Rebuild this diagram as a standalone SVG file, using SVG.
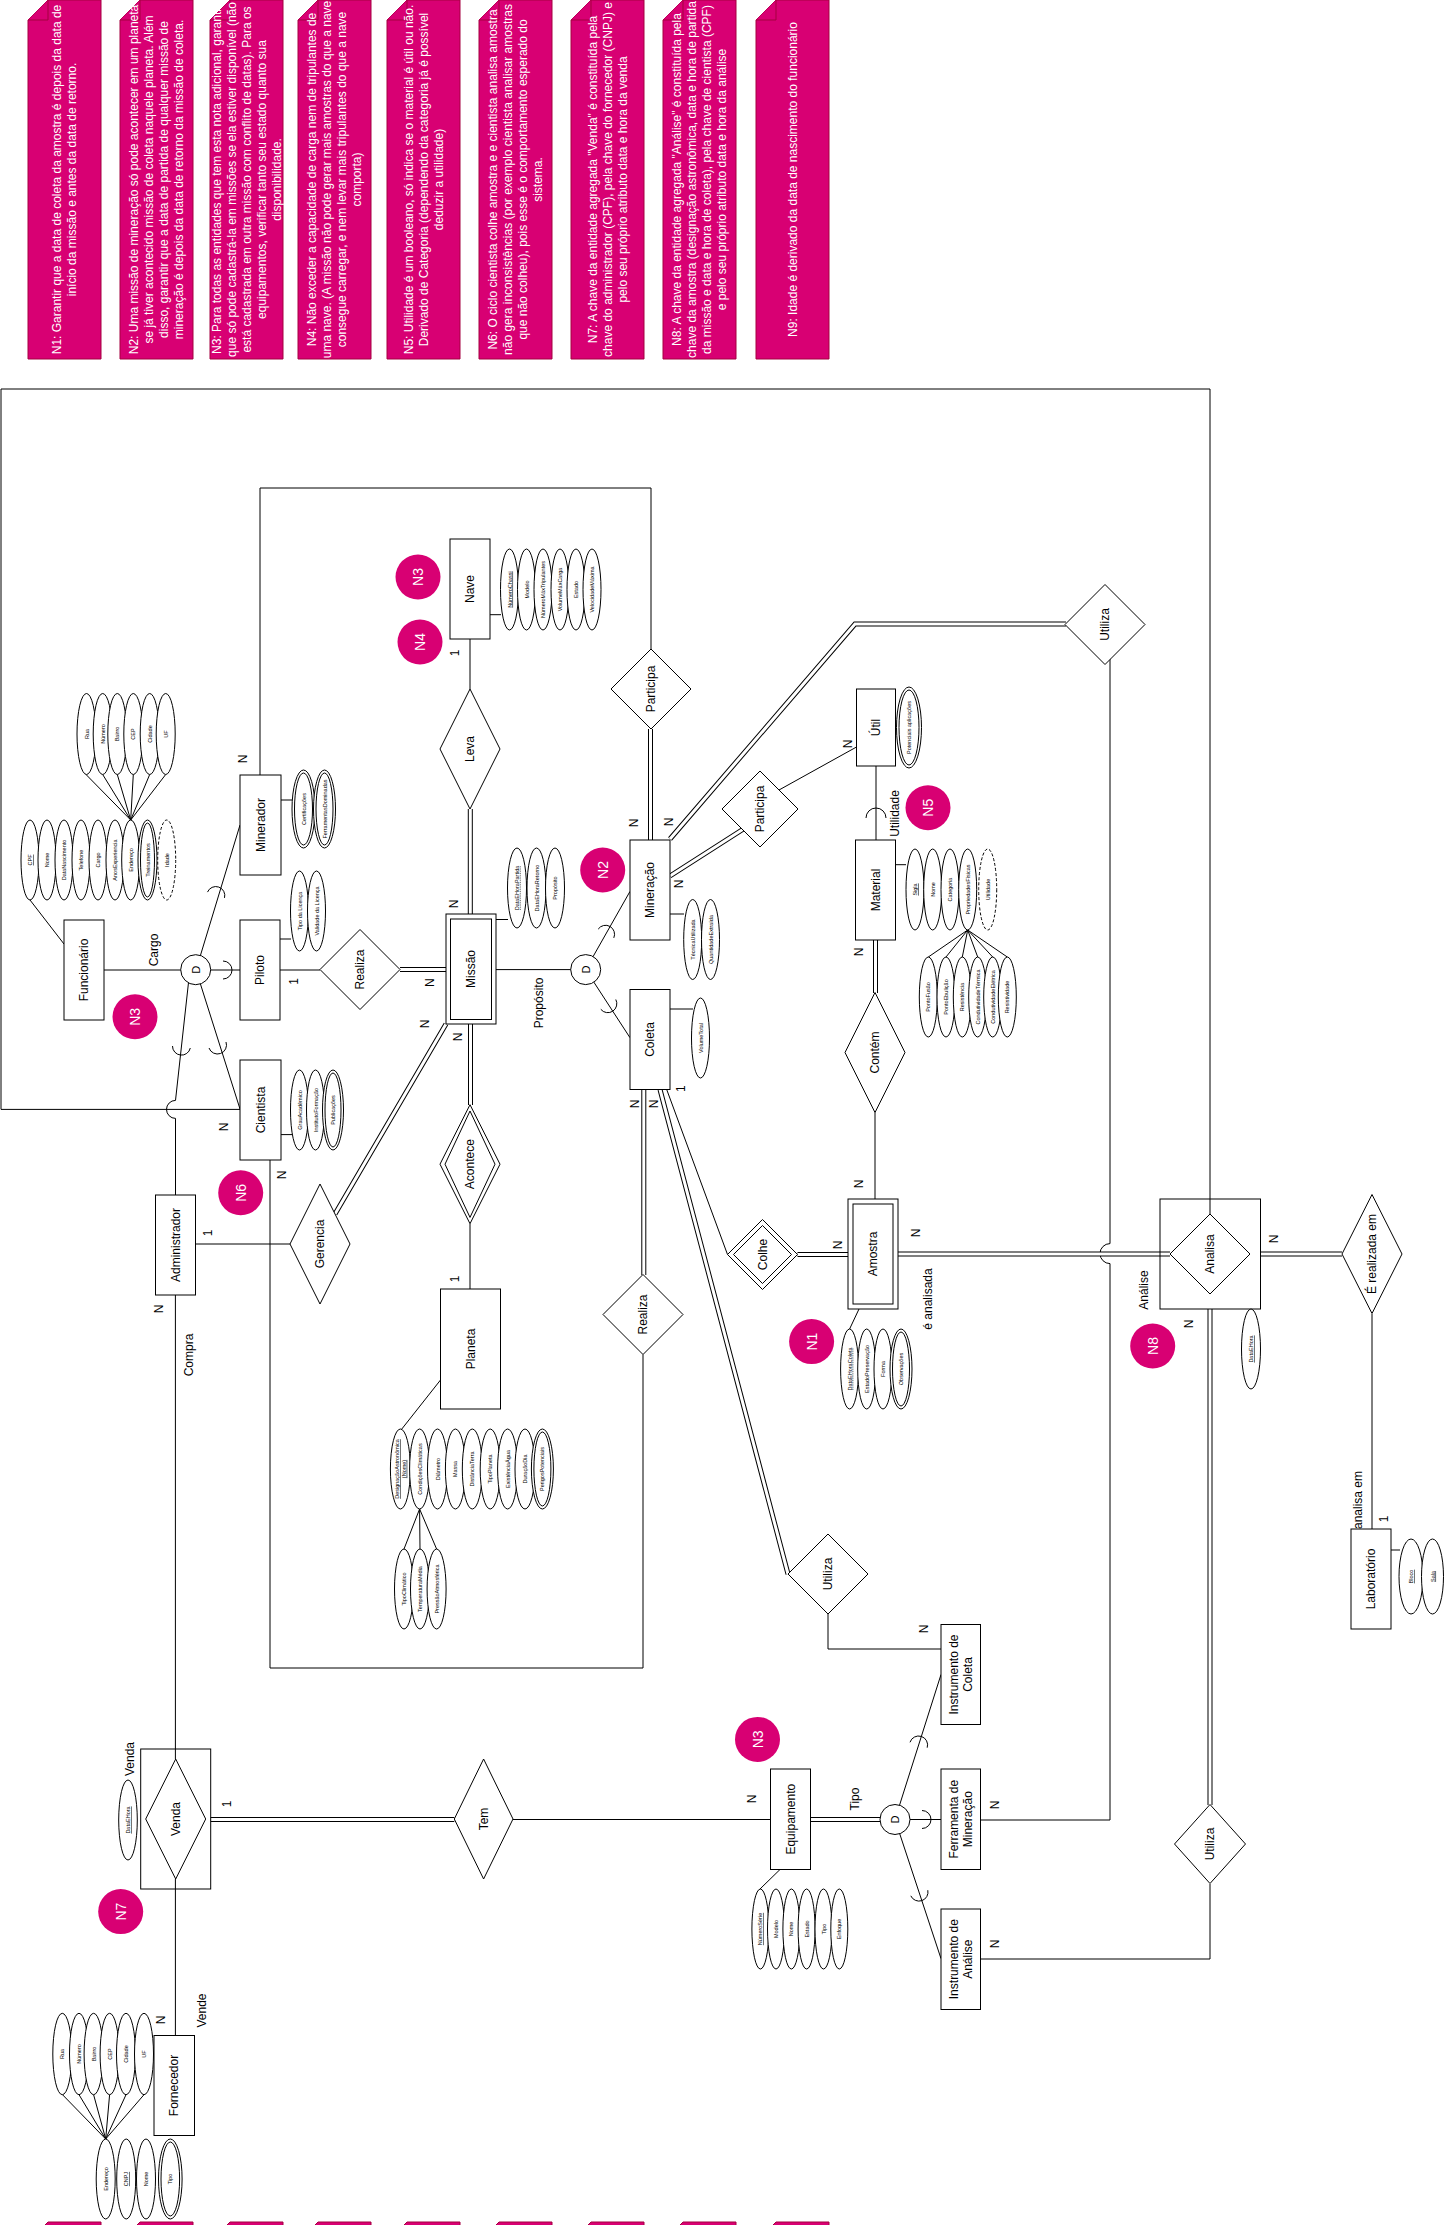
<svg xmlns="http://www.w3.org/2000/svg" width="1445" height="2225" viewBox="0 0 1445 2225">
<style>
.ln{fill:none;stroke:#000;stroke-width:1}
.db{fill:none;stroke:#000;stroke-width:5}
.dw{fill:none;stroke:#fff;stroke-width:3}
.e{fill:#fff;stroke:#000;stroke-width:1}
.en{fill:none;stroke:#000;stroke-width:1}
.ds{stroke-dasharray:3 2}
text{font-family:'Liberation Sans',Arial,sans-serif;text-anchor:middle;dominant-baseline:central;fill:#000}
.t{font-size:12px}
.s{font-size:11px}
.a{font-size:5.5px}
.note{fill:#d80073;stroke:#a50040;stroke-width:1}
.nt{font-size:12px;fill:#fff}
.nc{fill:#d80073}
.ct{font-size:14px;fill:#fff}
.u{text-decoration:underline}
</style>
<defs>
<path id="ns" d="M0,20 L20,0 H73 V359 H0 Z"/>
<path id="nf" d="M0,20 H20 V0"/>
</defs>
<rect width="1445" height="2225" fill="#fff"/>

<g id="notes">
<g id="note-n1" transform="translate(28,0)"><use href="#ns" class="note"/><use href="#nf" class="note"/><text class="nt" transform="translate(36.5,179.5) rotate(-90)"><tspan x="0" y="-7.5">N1: Garantir que a data de coleta da amostra é depois da data de</tspan><tspan x="0" y="7.5">início da missão e antes da data de retorno.</tspan></text></g>
<g id="note-n2" transform="translate(120,0)"><use href="#ns" class="note"/><use href="#nf" class="note"/><text class="nt" transform="translate(36.5,179.5) rotate(-90)"><tspan x="0" y="-22.5">N2: Uma missão de mineração só pode acontecer em um planeta</tspan><tspan x="0" y="-7.5">se já tiver acontecido missão de coleta naquele planeta. Além</tspan><tspan x="0" y="7.5">disso, garantir que a data de partida de qualquer missão de</tspan><tspan x="0" y="22.5">mineração é depois da data de retorno da missão de coleta.</tspan></text></g>
<g id="note-n3" transform="translate(210,0)"><use href="#ns" class="note"/><use href="#nf" class="note"/><text class="nt" transform="translate(36.5,179.5) rotate(-90)"><tspan x="0" y="-30">N3: Para todas as entidades que tem esta nota adicional, garantir</tspan><tspan x="0" y="-15">que só pode cadastrá-la em missões se ela estiver disponível (não</tspan><tspan x="0" y="0">está cadastrada em outra missão com conflito de datas). Para os</tspan><tspan x="0" y="15">equipamentos, verificar tanto seu estado quanto sua</tspan><tspan x="0" y="30">disponibilidade.</tspan></text></g>
<g id="note-n4" transform="translate(298,0)"><use href="#ns" class="note"/><use href="#nf" class="note"/><text class="nt" transform="translate(36.5,179.5) rotate(-90)"><tspan x="0" y="-22.5">N4: Não exceder a capacidade de carga nem de tripulantes de</tspan><tspan x="0" y="-7.5">uma nave. (A missão não pode gerar mais amostras do que a nave</tspan><tspan x="0" y="7.5">consegue carregar, e nem levar mais tripulantes do que a nave</tspan><tspan x="0" y="22.5">comporta)</tspan></text></g>
<g id="note-n5" transform="translate(387,0)"><use href="#ns" class="note"/><use href="#nf" class="note"/><text class="nt" transform="translate(36.5,179.5) rotate(-90)"><tspan x="0" y="-15">N5: Utilidade é um booleano, só indica se o material é útil ou não.</tspan><tspan x="0" y="0">Derivado de Categoria (dependendo da categoria já é possível</tspan><tspan x="0" y="15">deduzir a utilidade)</tspan></text></g>
<g id="note-n6" transform="translate(479,0)"><use href="#ns" class="note"/><use href="#nf" class="note"/><text class="nt" transform="translate(36.5,179.5) rotate(-90)"><tspan x="0" y="-22.5">N6: O ciclo cientista colhe amostra e e cientista analisa amostra</tspan><tspan x="0" y="-7.5">não gera inconsistências (por exemplo cientista analisar amostras</tspan><tspan x="0" y="7.5">que não colheu), pois esse é o comportamento esperado do</tspan><tspan x="0" y="22.5">sistema.</tspan></text></g>
<g id="note-n7" transform="translate(571,0)"><use href="#ns" class="note"/><use href="#nf" class="note"/><text class="nt" transform="translate(36.5,179.5) rotate(-90)"><tspan x="0" y="-15">N7: A chave da entidade agregada "Venda" é constituída pela</tspan><tspan x="0" y="0">chave do administrador (CPF), pela chave do fornecedor (CNPJ) e</tspan><tspan x="0" y="15">pelo seu próprio atributo data e hora da venda</tspan></text></g>
<g id="note-n8" transform="translate(663,0)"><use href="#ns" class="note"/><use href="#nf" class="note"/><text class="nt" transform="translate(36.5,179.5) rotate(-90)"><tspan x="0" y="-22.5">N8: A chave da entidade agregada "Análise" é constituída pela</tspan><tspan x="0" y="-7.5">chave da amostra (designação astronômica, data e hora de partida</tspan><tspan x="0" y="7.5">da missão e data e hora de coleta), pela chave de cientista (CPF)</tspan><tspan x="0" y="22.5">e pelo seu próprio atributo data e hora da análise</tspan></text></g>
<g id="note-n9" transform="translate(756,0)"><use href="#ns" class="note"/><use href="#nf" class="note"/><text class="nt" transform="translate(36.5,179.5) rotate(-90)"><tspan x="0" y="0">N9: Idade é derivado da data de nascimento do funcionário</tspan></text></g>
<g id="notes-below">
<use href="#ns" class="note" transform="translate(28,2222)"/><use href="#ns" class="note" transform="translate(120,2222)"/><use href="#ns" class="note" transform="translate(210,2222)"/><use href="#ns" class="note" transform="translate(298,2222)"/><use href="#ns" class="note" transform="translate(387,2222)"/><use href="#ns" class="note" transform="translate(479,2222)"/><use href="#ns" class="note" transform="translate(571,2222)"/><use href="#ns" class="note" transform="translate(663,2222)"/><use href="#ns" class="note" transform="translate(756,2222)"/>
</g>
</g>

<g id="connectors">
<path class="ln" d="M240,1109.4 H1 V389 H1210 V1214.5 M260,775 V488 H651 V649 M104,970 H196 M196,970 H240 M196,970 L240,825 M196,970 L240,1109 M188.5,982.5 L175.5,1100.4 A9,9 0 0 0 175.5,1118.4 V1195 M280,970 H320 M470,639 V689 M195.5,1244 H290 M270,1160 V1668 H643 V1354.5 M470,1223.7 V1289 M496,969.6 H571 M585.7,969.6 L630,891.4 M585.7,969.6 L630,1037.7 M666.7,1089.5 L727.5,1254.5 M779,790 L856.5,747 M876,766 V840 M875,1112.5 V1199 M1110,640 V1243.6 A10,10 0 0 0 1110,1263.6 V1820 H980.5 M980.5,1959 H1210 V1884 M828,1614 V1649 H941 M513,1819.5 H770.5 M895,1819.5 H941 M895,1819.5 L941,1674.5 M895,1819.5 L941,1958.6 M1372,1314 V1529 M175.4,1295 V1759 M175.4,1879 V2035.5"/>
<path class="ln" d="M223,961 A9,9 0 0 1 223,979 M207.5,892.1 A9,9 0 0 1 224.5,897.9 M226,1042 A9,9 0 0 1 209,1048 M190.3,1048 A9,9 0 0 1 172.5,1046 M598.2,929.1 A9,9 0 0 1 613.8,937.9 M615.8,999.5 A9,9 0 0 1 600.8,1009.3 M866,818 A10,10 0 0 1 886,818 M922,1810.5 A9,9 0 0 1 922,1828.5 M910,1742.3 A9,9 0 0 1 927.2,1747.7 M927.8,1890.2 A9,9 0 0 1 910.8,1895.8"/>
<path class="db" d="M650.5,729 V840 M470.3,809 V914 M400,969.5 H446 M335,1214 L446,1024 M470.5,1024 V1105 M670,839 L855,624 H1066 M670,876 L745,828 M875.5,940 V993 M643.8,1275 V1089.5 M660,1089.5 L788,1574 M797.5,1254.5 H848 M898,1254 H1170 M1260.5,1254 H1342 M1210,1309 V1805 M210.7,1819.5 H454.3 M810.5,1819.5 H880"/>
<path class="dw" d="M650.5,729 V840 M470.3,809 V914 M400,969.5 H446 M335,1214 L446,1024 M470.5,1024 V1105 M670,839 L855,624 H1066 M670,876 L745,828 M875.5,940 V993 M643.8,1275 V1089.5 M660,1089.5 L788,1574 M797.5,1254.5 H848 M898,1254 H1170 M1260.5,1254 H1342 M1210,1309 V1805 M210.7,1819.5 H454.3 M810.5,1819.5 H880"/>
<path class="ln" d="M490,614.7 H501 M496,919.5 H508 M280,939 H291 M281,800 H292 M281,1134.6 H292 M670,914 H684 M670,1009 H693 M895.3,864.7 H906 M859,1309 L849.6,1329 M1391,1550 H1400 M440.5,1380 L401.8,1429 M780,1869.5 L760,1889 M30,900 L64,944 M86,774.5 L130.7,820 M102.7,774.5 L130.7,820 M117.3,774.5 L130.7,820 M133.3,774.5 L130.7,820 M149.7,774.5 L130.7,820 M165.7,774.5 L130.7,820 M967.7,930 L928.3,957 M967.7,930 L946,957 M967.7,930 L962.3,957 M967.7,930 L977.7,957 M967.7,930 L992.7,957 M967.7,930 L1007.3,957 M419.6,1509 L404,1549 M419.6,1509 L420,1549 M419.6,1509 L436.6,1549 M62.5,2094.7 L105.7,2139 M79,2094.7 L105.7,2139 M93.6,2094.7 L105.7,2139 M109.6,2094.7 L105.7,2139 M126,2094.7 L105.7,2139 M144,2094.7 L105.7,2139"/>
</g>

<g id="entities">
<g id="funcionario"><rect class="e" x="64" y="920" width="40" height="100"/><text class="t" transform="translate(84,970) rotate(-90)">Funcionário</text></g>
<g id="minerador"><rect class="e" x="240" y="775" width="41" height="100"/><text class="t" transform="translate(260.5,825) rotate(-90)">Minerador</text></g>
<g id="piloto"><rect class="e" x="240" y="920" width="40" height="100"/><text class="t" transform="translate(260,970) rotate(-90)">Piloto</text></g>
<g id="cientista"><rect class="e" x="240" y="1060" width="41" height="100"/><text class="t" transform="translate(260.5,1110) rotate(-90)">Cientista</text></g>
<g id="administrador"><rect class="e" x="155.5" y="1195" width="40" height="100"/><text class="t" transform="translate(175.5,1245) rotate(-90)">Administrador</text></g>
<g id="nave"><rect class="e" x="450" y="539" width="40" height="100"/><text class="t" transform="translate(470,589) rotate(-90)">Nave</text></g>
<g id="missao"><rect class="e" x="446" y="914" width="50" height="110"/><rect class="e" x="450.5" y="919" width="41" height="100.5"/><text class="t" transform="translate(471,969) rotate(-90)">Missão</text></g>
<g id="planeta"><rect class="e" x="440.5" y="1289" width="60" height="120"/><text class="t" transform="translate(470.5,1349) rotate(-90)">Planeta</text></g>
<g id="mineracao"><rect class="e" x="630" y="840" width="40" height="100"/><text class="t" transform="translate(650,890) rotate(-90)">Mineração</text></g>
<g id="coleta"><rect class="e" x="630" y="989.5" width="40" height="100"/><text class="t" transform="translate(650,1039.5) rotate(-90)">Coleta</text></g>
<g id="util"><rect class="e" x="856.5" y="689" width="39" height="77"/><text class="t" transform="translate(876,727.5) rotate(-90)">Útil</text></g>
<g id="material"><rect class="e" x="855.5" y="840" width="40" height="100"/><text class="t" transform="translate(875.5,890) rotate(-90)">Material</text></g>
<g id="amostra"><rect class="e" x="848" y="1199" width="50" height="110"/><rect class="e" x="853" y="1204" width="40" height="100"/><text class="t" transform="translate(873,1254) rotate(-90)">Amostra</text></g>
<g id="laboratorio"><rect class="e" x="1351" y="1529" width="40" height="100"/><text class="t" transform="translate(1371,1579) rotate(-90)">Laboratório</text></g>
<g id="instr-coleta"><rect class="e" x="941" y="1624.5" width="39.5" height="100"/><text class="t" transform="translate(960.7,1674.5) rotate(-90)"><tspan x="0" y="-7">Instrumento de</tspan><tspan x="0" y="7">Coleta</tspan></text></g>
<g id="ferramenta"><rect class="e" x="941" y="1769" width="39.5" height="100.5"/><text class="t" transform="translate(960.7,1819.2) rotate(-90)"><tspan x="0" y="-7">Ferramenta de</tspan><tspan x="0" y="7">Mineração</tspan></text></g>
<g id="instr-analise"><rect class="e" x="941" y="1909" width="39.5" height="100.5"/><text class="t" transform="translate(960.7,1959.2) rotate(-90)"><tspan x="0" y="-7">Instrumento de</tspan><tspan x="0" y="7">Análise</tspan></text></g>
<g id="equipamento"><rect class="e" x="770.5" y="1769" width="40" height="100.5"/><text class="t" transform="translate(790.5,1819.2) rotate(-90)">Equipamento</text></g>
<g id="fornecedor"><rect class="e" x="154" y="2035.5" width="40.5" height="100"/><text class="t" transform="translate(174.2,2085.5) rotate(-90)">Fornecedor</text></g>
<g id="analise-agg"><rect class="en" x="1160" y="1199" width="100.5" height="110"/><polygon class="e" points="1210,1214 1250,1254 1210,1294 1170,1254"/><text class="t" transform="translate(1210,1254) rotate(-90)">Analisa</text></g>
<g id="venda-agg"><rect class="en" x="140.7" y="1749" width="70" height="140"/><polygon class="e" points="175.7,1759 205.7,1819 175.7,1879 145.7,1819"/><text class="t" transform="translate(175.7,1819) rotate(-90)">Venda</text></g>
</g>

<g id="relationships">
<g id="participa-1"><polygon class="e" points="651,649 691,689 651,729 611,689"/><text class="t" transform="translate(651,689) rotate(-90)">Participa</text></g>
<g id="leva"><polygon class="e" points="470,689 500,749 470,809 440,749"/><text class="t" transform="translate(470,749) rotate(-90)">Leva</text></g>
<g id="realiza-1"><polygon class="e" points="360,929.5 400,969.5 360,1009.5 320,969.5"/><text class="t" transform="translate(360,969.5) rotate(-90)">Realiza</text></g>
<g id="gerencia"><polygon class="e" points="320,1184 350,1244 320,1304 290,1244"/><text class="t" transform="translate(320,1244) rotate(-90)">Gerencia</text></g>
<g id="acontece"><polygon class="e" points="470,1104.7 500,1164.2 470,1223.7 440,1164.2"/><polygon class="e" points="470,1111 495,1164.2 470,1217.4 445,1164.2"/><text class="t" transform="translate(470,1164.2) rotate(-90)">Acontece</text></g>
<g id="participa-2"><polygon class="e" points="760,771 798,809 760,847 722,809"/><text class="t" transform="translate(760,809) rotate(-90)">Participa</text></g>
<g id="utiliza-1"><polygon class="e" points="1105,584.5 1145,624.5 1105,664.5 1065,624.5"/><text class="t" transform="translate(1105,624.5) rotate(-90)">Utiliza</text></g>
<g id="contem"><polygon class="e" points="875,992.5 905,1052.5 875,1112.5 845,1052.5"/><text class="t" transform="translate(875,1052.5) rotate(-90)">Contém</text></g>
<g id="colhe"><polygon class="e" points="762.5,1219.5 797.5,1254.5 762.5,1289.5 727.5,1254.5"/><polygon class="e" points="762.5,1225.5 791.5,1254.5 762.5,1283.5 733.5,1254.5"/><text class="t" transform="translate(762.5,1254.5) rotate(-90)">Colhe</text></g>
<g id="realiza-2"><polygon class="e" points="643,1274.5 683,1314.5 643,1354.5 603,1314.5"/><text class="t" transform="translate(643,1314.5) rotate(-90)">Realiza</text></g>
<g id="utiliza-2"><polygon class="e" points="828,1534 868,1574 828,1614 788,1574"/><text class="t" transform="translate(828,1574) rotate(-90)">Utiliza</text></g>
<g id="realizada-em"><polygon class="e" points="1372,1194.5 1402,1254 1372,1313.5 1342,1254"/><text class="t" transform="translate(1372,1254) rotate(-90)">É realizada em</text></g>
<g id="utiliza-3"><polygon class="e" points="1210,1804.5 1245.5,1844 1210,1883.5 1174.5,1844"/><text class="t" transform="translate(1210,1844) rotate(-90)">Utiliza</text></g>
<g id="tem"><polygon class="e" points="483.6,1759 513,1819 483.6,1879 454.3,1819"/><text class="t" transform="translate(483.6,1819) rotate(-90)">Tem</text></g>
<g id="d-cargo"><circle class="e" cx="195.7" cy="969.7" r="15"/><text class="s" transform="translate(195.7,969.7) rotate(-90)">D</text></g>
<g id="d-proposito"><circle class="e" cx="585.7" cy="969.6" r="15"/><text class="s" transform="translate(585.7,969.6) rotate(-90)">D</text></g>
<g id="d-tipo"><circle class="e" cx="895" cy="1819.5" r="15"/><text class="s" transform="translate(895,1819.5) rotate(-90)">D</text></g>
</g>

<g id="attributes">
<g id="attr-funcionario">
<g transform="translate(30,860)"><ellipse class="e" rx="9" ry="40"/><text class="a u" transform="rotate(-90)">CPF</text></g>
<g transform="translate(47,860)"><ellipse class="e" rx="9" ry="40"/><text class="a" transform="rotate(-90)">Nome</text></g>
<g transform="translate(64,860)"><ellipse class="e" rx="9" ry="40"/><text class="a" transform="rotate(-90)">DataNascimento</text></g>
<g transform="translate(81,860)"><ellipse class="e" rx="9" ry="40"/><text class="a" transform="rotate(-90)">Telefone</text></g>
<g transform="translate(98,860)"><ellipse class="e" rx="9" ry="40"/><text class="a" transform="rotate(-90)">Cargo</text></g>
<g transform="translate(115,860)"><ellipse class="e" rx="9" ry="40"/><text class="a" transform="rotate(-90)">AnosExperiencia</text></g>
<g transform="translate(130.7,860)"><ellipse class="e" rx="9" ry="40"/><text class="a" transform="rotate(-90)">Endereço</text></g>
<g transform="translate(147.5,860)"><ellipse class="e" rx="9.5" ry="40"/><ellipse class="e" rx="7" ry="37"/><text class="a" transform="rotate(-90)">Treinamentos</text></g>
<g transform="translate(166.7,860)"><ellipse class="e ds" rx="9" ry="40"/><text class="a" transform="rotate(-90)">Idade</text></g>
</g>
<g id="attr-funcionario-endereco">
<g transform="translate(86.5,734)"><ellipse class="e" rx="9.5" ry="40.5"/><text class="a" transform="rotate(-90)">Rua</text></g>
<g transform="translate(102.7,734)"><ellipse class="e" rx="9.5" ry="40.5"/><text class="a" transform="rotate(-90)">Número</text></g>
<g transform="translate(117.3,734)"><ellipse class="e" rx="9.5" ry="40.5"/><text class="a" transform="rotate(-90)">Bairro</text></g>
<g transform="translate(133.3,734)"><ellipse class="e" rx="9.5" ry="40.5"/><text class="a" transform="rotate(-90)">CEP</text></g>
<g transform="translate(149.7,734)"><ellipse class="e" rx="9.5" ry="40.5"/><text class="a" transform="rotate(-90)">Cidade</text></g>
<g transform="translate(165.7,734)"><ellipse class="e" rx="9.5" ry="40.5"/><text class="a" transform="rotate(-90)">UF</text></g>
</g>
<g id="attr-minerador">
<g transform="translate(303.5,809)"><ellipse class="e" rx="11.5" ry="39"/><ellipse class="e" rx="9" ry="36"/><text class="a" transform="rotate(-90)">Certificações</text></g>
<g transform="translate(324.5,809)"><ellipse class="e" rx="11" ry="39"/><ellipse class="e" rx="8.5" ry="36"/><text class="a" transform="rotate(-90)">FerramentasDominadas</text></g>
</g>
<g id="attr-piloto">
<g transform="translate(299.5,911)"><ellipse class="e" rx="9" ry="40"/><text class="a" transform="rotate(-90)">Tipo da Licença</text></g>
<g transform="translate(316.5,911)"><ellipse class="e" rx="9" ry="40"/><text class="a" transform="rotate(-90)">Validade da Licença</text></g>
</g>
<g id="attr-cientista">
<g transform="translate(299.5,1110)"><ellipse class="e" rx="9" ry="40"/><text class="a" transform="rotate(-90)">GrauAcadêmico</text></g>
<g transform="translate(315.5,1110)"><ellipse class="e" rx="9" ry="40"/><text class="a" transform="rotate(-90)">InstitutoFormação</text></g>
<g transform="translate(333,1110)"><ellipse class="e" rx="10.5" ry="40"/><ellipse class="e" rx="8" ry="37"/><text class="a" transform="rotate(-90)">Publicações</text></g>
</g>
<g id="attr-nave">
<g transform="translate(509.5,589.5)"><ellipse class="e" rx="9" ry="40.5"/><text class="a u" transform="rotate(-90)">NúmeroChassi</text></g>
<g transform="translate(526.5,589.5)"><ellipse class="e" rx="9" ry="40.5"/><text class="a" transform="rotate(-90)">Modelo</text></g>
<g transform="translate(543,589.5)"><ellipse class="e" rx="9" ry="40.5"/><text class="a" transform="rotate(-90)">NúmeroMáxTripulantes</text></g>
<g transform="translate(560,589.5)"><ellipse class="e" rx="9" ry="40.5"/><text class="a" transform="rotate(-90)">VolumeMáxCarga</text></g>
<g transform="translate(576,589.5)"><ellipse class="e" rx="9" ry="40.5"/><text class="a" transform="rotate(-90)">Estado</text></g>
<g transform="translate(592,589.5)"><ellipse class="e" rx="9" ry="40.5"/><text class="a" transform="rotate(-90)">VelocidadeMáxima</text></g>
</g>
<g id="attr-missao">
<g transform="translate(517,888)"><ellipse class="e" rx="9.5" ry="40"/><g transform="rotate(-90)"><text class="a">DataEHoraPartida</text><line x1="-22" y1="3.3" x2="22" y2="3.3" stroke="#000" stroke-width="0.6" stroke-dasharray="1 0.8"/></g></g>
<g transform="translate(536.5,888)"><ellipse class="e" rx="9.5" ry="40"/><text class="a" transform="rotate(-90)">DataEHoraRetorno</text></g>
<g transform="translate(555,888)"><ellipse class="e" rx="9.5" ry="40"/><text class="a" transform="rotate(-90)">Propósito</text></g>
</g>
<g id="attr-mineracao">
<g transform="translate(692.7,939.5)"><ellipse class="e" rx="9" ry="40"/><text class="a" transform="rotate(-90)">TécnicaUtilizada</text></g>
<g transform="translate(710.5,939.5)"><ellipse class="e" rx="9" ry="40"/><text class="a" transform="rotate(-90)">QuantidadeExtraída</text></g>
</g>
<g id="attr-coleta"><g transform="translate(700.5,1038)"><ellipse class="e" rx="9" ry="40"/><text class="a" transform="rotate(-90)">VolumeTotal</text></g></g>
<g id="attr-util"><g transform="translate(909,727.5)"><ellipse class="e" rx="12.5" ry="40.5"/><ellipse class="e" rx="10" ry="37.5"/><text class="a" transform="rotate(-90)">Potenciais aplicações</text></g></g>
<g id="attr-material">
<g transform="translate(915,889.5)"><ellipse class="e" rx="9" ry="40.5"/><text class="a u" transform="rotate(-90)">Sigla</text></g>
<g transform="translate(932.7,889.5)"><ellipse class="e" rx="9" ry="40.5"/><text class="a" transform="rotate(-90)">Nome</text></g>
<g transform="translate(950,889.5)"><ellipse class="e" rx="9" ry="40.5"/><text class="a" transform="rotate(-90)">Categoria</text></g>
<g transform="translate(967.7,889.5)"><ellipse class="e" rx="9" ry="40.5"/><text class="a" transform="rotate(-90)">PropriedadesFísicas</text></g>
<g transform="translate(987.7,889.5)"><ellipse class="e ds" rx="9" ry="40.5"/><text class="a" transform="rotate(-90)">Utilidade</text></g>
</g>
<g id="attr-propriedades">
<g transform="translate(928.3,997)"><ellipse class="e" rx="9" ry="40"/><text class="a" transform="rotate(-90)">PontoFusão</text></g>
<g transform="translate(946,997)"><ellipse class="e" rx="9" ry="40"/><text class="a" transform="rotate(-90)">PontoEbulição</text></g>
<g transform="translate(962.3,997)"><ellipse class="e" rx="9" ry="40"/><text class="a" transform="rotate(-90)">Resistência</text></g>
<g transform="translate(977.7,997)"><ellipse class="e" rx="9" ry="40"/><text class="a" transform="rotate(-90)">CondutividadeTérmica</text></g>
<g transform="translate(992.7,997)"><ellipse class="e" rx="9" ry="40"/><text class="a" transform="rotate(-90)">CondutividadeElétrica</text></g>
<g transform="translate(1007.3,997)"><ellipse class="e" rx="9" ry="40"/><text class="a" transform="rotate(-90)">Resistividade</text></g>
</g>
<g id="attr-amostra">
<g transform="translate(849.6,1369)"><ellipse class="e" rx="9" ry="40"/><g transform="rotate(-90)"><text class="a">DataEHoraColeta</text><line x1="-21" y1="3.3" x2="21" y2="3.3" stroke="#000" stroke-width="0.6" stroke-dasharray="1 0.8"/></g></g>
<g transform="translate(866.7,1369)"><ellipse class="e" rx="9" ry="40"/><text class="a" transform="rotate(-90)">EstadoPreservação</text></g>
<g transform="translate(883,1369)"><ellipse class="e" rx="9" ry="40"/><text class="a" transform="rotate(-90)">Forma</text></g>
<g transform="translate(901,1369)"><ellipse class="e" rx="11" ry="40"/><ellipse class="e" rx="8.5" ry="37"/><text class="a" transform="rotate(-90)">Observações</text></g>
</g>
<g id="attr-analise"><g transform="translate(1251,1349)"><ellipse class="e" rx="9.5" ry="40"/><text class="a u" transform="rotate(-90)">DataEHora</text></g></g>
<g id="attr-laboratorio">
<g transform="translate(1411,1576.5)"><ellipse class="e" rx="12" ry="37.5"/><text class="a u" transform="rotate(-90)">Bloco</text></g>
<g transform="translate(1432.5,1576.5)"><ellipse class="e" rx="11" ry="37.5"/><text class="a u" transform="rotate(-90)">Sala</text></g>
</g>
<g id="attr-planeta">
<g transform="translate(400.4,1469)"><ellipse class="e" rx="10" ry="40"/><text class="a u" transform="rotate(-90)"><tspan x="0" y="-3.3">DesignaçãoAstronômica</tspan><tspan x="0" y="3.3">(Nome)</tspan></text></g>
<g transform="translate(419.6,1469)"><ellipse class="e" rx="10" ry="40"/><text class="a" transform="rotate(-90)">CondiçõesClimáticas</text></g>
<g transform="translate(437.5,1469)"><ellipse class="e" rx="10" ry="40"/><text class="a" transform="rotate(-90)">Diâmetro</text></g>
<g transform="translate(455.4,1469)"><ellipse class="e" rx="10" ry="40"/><text class="a" transform="rotate(-90)">Massa</text></g>
<g transform="translate(472.3,1469)"><ellipse class="e" rx="10" ry="40"/><text class="a" transform="rotate(-90)">DistânciaTerra</text></g>
<g transform="translate(490.2,1469)"><ellipse class="e" rx="10" ry="40"/><text class="a" transform="rotate(-90)">TipoPlaneta</text></g>
<g transform="translate(507.6,1469)"><ellipse class="e" rx="10" ry="40"/><text class="a" transform="rotate(-90)">ExistênciaÁgua</text></g>
<g transform="translate(525,1469)"><ellipse class="e" rx="10" ry="40"/><text class="a" transform="rotate(-90)">DuraçãoDia</text></g>
<g transform="translate(542.4,1469)"><ellipse class="e" rx="11" ry="40"/><ellipse class="e" rx="8.5" ry="37"/><text class="a" transform="rotate(-90)">PerigosPotenciais</text></g>
</g>
<g id="attr-condicoes">
<g transform="translate(404,1589)"><ellipse class="e" rx="9.5" ry="40"/><text class="a" transform="rotate(-90)">TipoClimático</text></g>
<g transform="translate(420,1589)"><ellipse class="e" rx="9.5" ry="40"/><text class="a" transform="rotate(-90)">TemperaturaMédia</text></g>
<g transform="translate(436.6,1589)"><ellipse class="e" rx="9.5" ry="40"/><text class="a" transform="rotate(-90)">PressãoAtmosférica</text></g>
</g>
<g id="attr-equipamento">
<g transform="translate(760.4,1929)"><ellipse class="e" rx="8.5" ry="40"/><text class="a u" transform="rotate(-90)">NúmeroSérie</text></g>
<g transform="translate(776,1929)"><ellipse class="e" rx="8.5" ry="40"/><text class="a" transform="rotate(-90)">Modelo</text></g>
<g transform="translate(791.4,1929)"><ellipse class="e" rx="8.5" ry="40"/><text class="a" transform="rotate(-90)">Nome</text></g>
<g transform="translate(806.6,1929)"><ellipse class="e" rx="8.5" ry="40"/><text class="a" transform="rotate(-90)">Estado</text></g>
<g transform="translate(823.5,1929)"><ellipse class="e" rx="8.5" ry="40"/><text class="a" transform="rotate(-90)">Tipo</text></g>
<g transform="translate(839.3,1929)"><ellipse class="e" rx="8.5" ry="40"/><text class="a" transform="rotate(-90)">Enfoque</text></g>
</g>
<g id="attr-venda"><g transform="translate(128,1820)"><ellipse class="e" rx="9.3" ry="40"/><text class="a u" transform="rotate(-90)">DataEHora</text></g></g>
<g id="attr-fornecedor">
<g transform="translate(105.7,2179)"><ellipse class="e" rx="9.5" ry="40"/><text class="a" transform="rotate(-90)">Endereço</text></g>
<g transform="translate(126.2,2179)"><ellipse class="e" rx="9.5" ry="40"/><text class="a u" transform="rotate(-90)">CNPJ</text></g>
<g transform="translate(146,2179)"><ellipse class="e" rx="9.5" ry="40"/><text class="a" transform="rotate(-90)">Nome</text></g>
<g transform="translate(170.3,2179)"><ellipse class="e" rx="11.8" ry="40"/><ellipse class="e" rx="9.3" ry="37"/><text class="a" transform="rotate(-90)">Tipo</text></g>
</g>
<g id="attr-fornecedor-endereco">
<g transform="translate(62.3,2054)"><ellipse class="e" rx="9.5" ry="40.7"/><text class="a" transform="rotate(-90)">Rua</text></g>
<g transform="translate(79,2054)"><ellipse class="e" rx="9.5" ry="40.7"/><text class="a" transform="rotate(-90)">Número</text></g>
<g transform="translate(93.6,2054)"><ellipse class="e" rx="9.5" ry="40.7"/><text class="a" transform="rotate(-90)">Bairro</text></g>
<g transform="translate(109.6,2054)"><ellipse class="e" rx="9.5" ry="40.7"/><text class="a" transform="rotate(-90)">CEP</text></g>
<g transform="translate(126,2054)"><ellipse class="e" rx="9.5" ry="40.7"/><text class="a" transform="rotate(-90)">Cidade</text></g>
<g transform="translate(144,2054)"><ellipse class="e" rx="9.5" ry="40.7"/><text class="a" transform="rotate(-90)">UF</text></g>
</g>
</g>

<g id="labels">
<text class="t" transform="translate(243.3,759) rotate(-90)">N</text>
<text class="t" transform="translate(455,653) rotate(-90)">1</text>
<text class="t" transform="translate(454,904) rotate(-90)">N</text>
<text class="t" transform="translate(634,823) rotate(-90)">N</text>
<text class="t" transform="translate(669,822) rotate(-90)">N</text>
<text class="t" transform="translate(679,884) rotate(-90)">N</text>
<text class="t" transform="translate(848,744) rotate(-90)">N</text>
<text class="t" transform="translate(859,952) rotate(-90)">N</text>
<text class="t" transform="translate(859,1184) rotate(-90)">N</text>
<text class="t" transform="translate(838,1245) rotate(-90)">N</text>
<text class="t" transform="translate(916,1233) rotate(-90)">N</text>
<text class="t" transform="translate(1274,1239) rotate(-90)">N</text>
<text class="t" transform="translate(1189,1324) rotate(-90)">N</text>
<text class="t" transform="translate(1384,1519) rotate(-90)">1</text>
<text class="t" transform="translate(294,981.5) rotate(-90)">1</text>
<text class="t" transform="translate(430,982.6) rotate(-90)">N</text>
<text class="t" transform="translate(425,1024) rotate(-90)">N</text>
<text class="t" transform="translate(458,1037) rotate(-90)">N</text>
<text class="t" transform="translate(454.5,1279) rotate(-90)">1</text>
<text class="t" transform="translate(635,1104) rotate(-90)">N</text>
<text class="t" transform="translate(654,1104) rotate(-90)">N</text>
<text class="t" transform="translate(681,1088.6) rotate(-90)">1</text>
<text class="t" transform="translate(224,1127) rotate(-90)">N</text>
<text class="t" transform="translate(282,1175) rotate(-90)">N</text>
<text class="t" transform="translate(208,1233) rotate(-90)">1</text>
<text class="t" transform="translate(159,1309) rotate(-90)">N</text>
<text class="t" transform="translate(227,1804) rotate(-90)">1</text>
<text class="t" transform="translate(752,1799) rotate(-90)">N</text>
<text class="t" transform="translate(924,1629) rotate(-90)">N</text>
<text class="t" transform="translate(994.5,1805) rotate(-90)">N</text>
<text class="t" transform="translate(994.5,1944) rotate(-90)">N</text>
<text class="t" transform="translate(160.7,2020) rotate(-90)">N</text>
<text class="t" transform="translate(154,950) rotate(-90)">Cargo</text>
<text class="t" transform="translate(539,1003) rotate(-90)">Propósito</text>
<text class="t" transform="translate(895,813.5) rotate(-90)">Utilidade</text>
<text class="t" transform="translate(854.6,1799) rotate(-90)">Tipo</text>
<text class="t" transform="translate(928,1299) rotate(-90)">é analisada</text>
<text class="t" transform="translate(1144,1290) rotate(-90)">Análise</text>
<text class="t" transform="translate(1358,1500) rotate(-90)">analisa em</text>
<text class="t" transform="translate(130,1759) rotate(-90)">Venda</text>
<text class="t" transform="translate(189,1355) rotate(-90)">Compra</text>
<text class="t" transform="translate(201.8,2010.5) rotate(-90)">Vende</text>
</g>

<g id="note-markers">
<g id="m-n3-nave" transform="translate(418,577)"><circle class="nc" r="22.5"/><text class="ct" transform="rotate(-90)">N3</text></g>
<g id="m-n4" transform="translate(420,642)"><circle class="nc" r="22.5"/><text class="ct" transform="rotate(-90)">N4</text></g>
<g id="m-n2" transform="translate(602.7,870)"><circle class="nc" r="22.5"/><text class="ct" transform="rotate(-90)">N2</text></g>
<g id="m-n5" transform="translate(928,807.7)"><circle class="nc" r="22.5"/><text class="ct" transform="rotate(-90)">N5</text></g>
<g id="m-n3-func" transform="translate(135,1016.8)"><circle class="nc" r="22.5"/><text class="ct" transform="rotate(-90)">N3</text></g>
<g id="m-n6" transform="translate(240.7,1192.8)"><circle class="nc" r="22.5"/><text class="ct" transform="rotate(-90)">N6</text></g>
<g id="m-n1" transform="translate(811.6,1341.6)"><circle class="nc" r="22.5"/><text class="ct" transform="rotate(-90)">N1</text></g>
<g id="m-n8" transform="translate(1152.7,1346)"><circle class="nc" r="22.5"/><text class="ct" transform="rotate(-90)">N8</text></g>
<g id="m-n3-equip" transform="translate(757.5,1739.4)"><circle class="nc" r="22.5"/><text class="ct" transform="rotate(-90)">N3</text></g>
<g id="m-n7" transform="translate(120.7,1911.6)"><circle class="nc" r="22.5"/><text class="ct" transform="rotate(-90)">N7</text></g>
</g>
</svg>
